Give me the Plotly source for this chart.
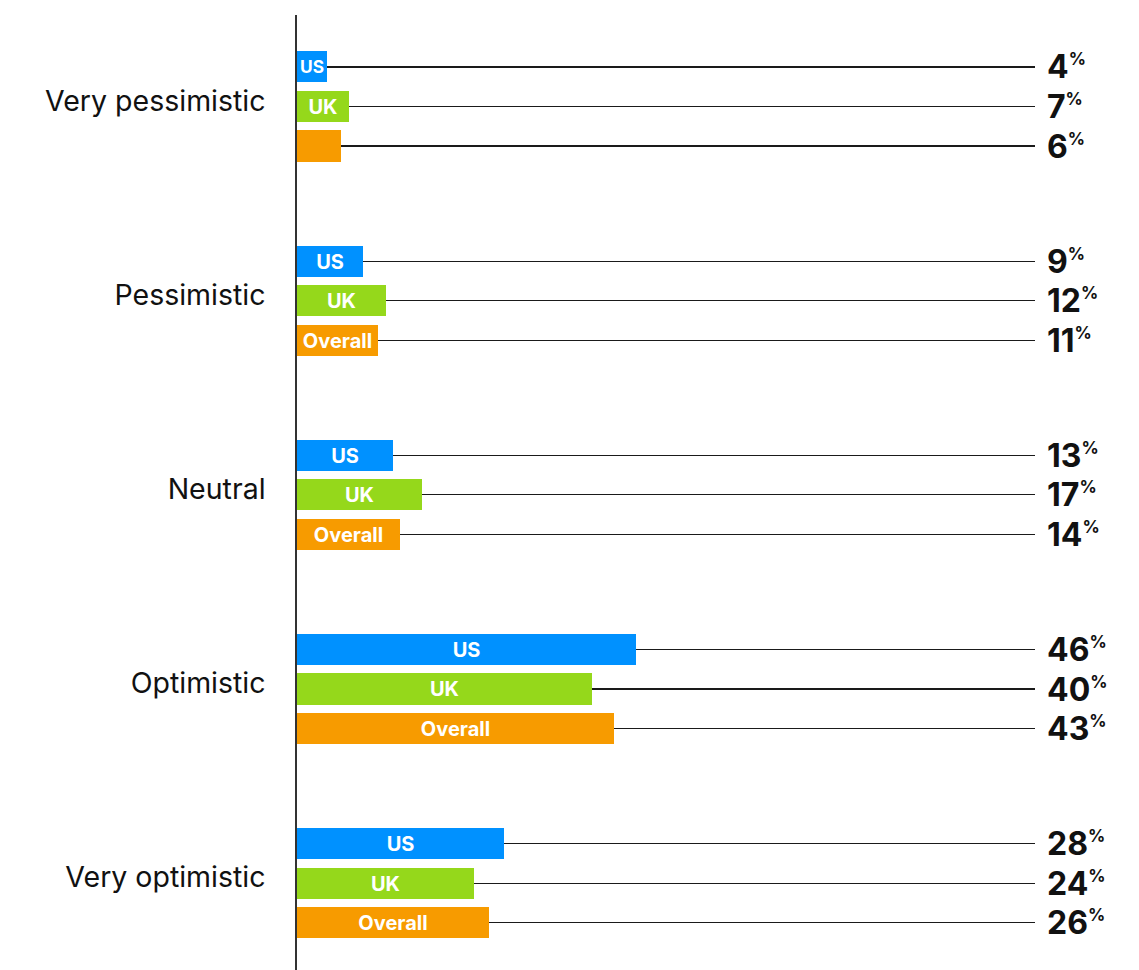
import plotly.graph_objects as go

categories = ["Very pessimistic", "Pessimistic", "Neutral", "Optimistic", "Very optimistic"]
us = [4, 9, 13, 46, 28]
uk = [7, 12, 17, 40, 24]
overall = [6, 11, 14, 43, 26]

us_labels = ["US", "US", "US", "US", "US"]
uk_labels = ["UK", "UK", "UK", "UK", "UK"]
overall_labels = ["", "Overall", "Overall", "Overall", "Overall"]

series = [
    ("US", us, "#0091FF", us_labels),
    ("UK", uk, "#95D81B", uk_labels),
    ("Overall", overall, "#F79B00", overall_labels),
]

LEADER_END = 100   # where the thin leader lines stop (data units)
STEP = 0.2036      # distance between bars inside a group
BAR_W = 0.16

fig = go.Figure()
for k, (name, vals, color, labels) in enumerate(series):
    ys = [g + (k - 1) * STEP for g in range(len(categories))]
    fig.add_trace(go.Bar(
        x=vals, y=ys, orientation="h", width=BAR_W, name=name,
        marker=dict(color=color, line_width=0),
        text=labels, textposition="inside", insidetextanchor="middle", textangle=0,
        textfont=dict(family="Inter", size=20, color="white", weight="bold"),
        error_x=dict(type="data", symmetric=False,
                     array=[LEADER_END - v for v in vals], arrayminus=[0] * len(vals),
                     thickness=1.2, width=0, color="#1a1a1a"),
        hoverinfo="skip", showlegend=False,
    ))
    for y, v in zip(ys, vals):
        fig.add_annotation(
            x=LEADER_END, y=y, xanchor="left", yanchor="middle", xshift=10,
            showarrow=False,
            text=f"<b>{v}</b><sup><span style='font-size:17px;font-weight:bold'>%</span></sup>",
            font=dict(family="Inter", size=32, color="#111111"),
        )

# the page body adds an 8px margin, so the figure is a bit smaller than the window
fig.update_layout(
    width=1131, height=962,
    margin=dict(l=289, r=0, t=7, b=0),
    plot_bgcolor="white", paper_bgcolor="white",
    bargap=0,
    xaxis=dict(range=[0, 114.1], visible=False, showgrid=False, zeroline=False),
    yaxis=dict(
        range=[4.447, -0.471],
        tickvals=[g - 0.03 for g in range(len(categories))],
        ticktext=categories,
        tickfont=dict(family="Inter", size=28.5, color="#111111"),
        ticks="", ticklabelstandoff=24,
        showgrid=False, zeroline=False,
        showline=True, linecolor="#333333", linewidth=1.5,
    ),
    hovermode=False,
)

fig.write_html("out.html")
